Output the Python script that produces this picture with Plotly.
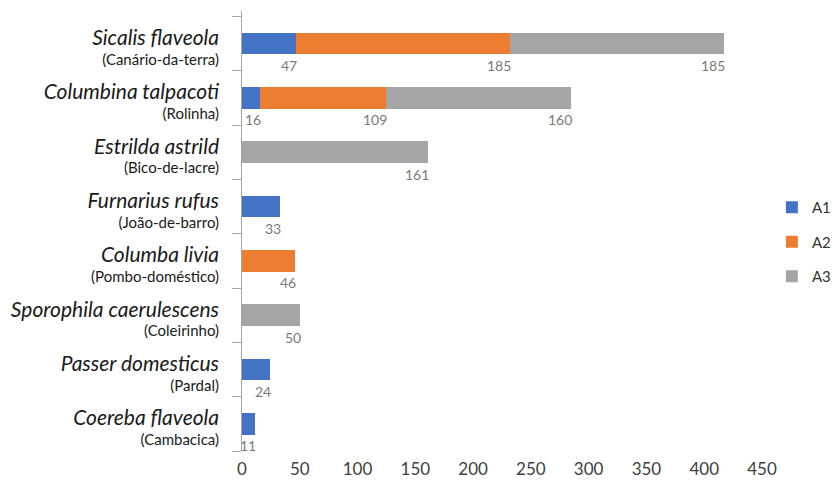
import plotly.graph_objects as go

species = ["Sicalis flaveola", "Columbina talpacoti", "Estrilda astrild", "Furnarius rufus",
           "Columba livia", "Sporophila caerulescens", "Passer domesticus", "Coereba flaveola"]
common = ["Canário-da-terra", "Rolinha", "Bico-de-lacre", "João-de-barro",
          "Pombo-doméstico", "Coleirinho", "Pardal", "Cambacica"]
a1 = [47, 16, 0, 33, 0, 0, 24, 11]
a2 = [185, 109, 0, 0, 46, 0, 0, 0]
a3 = [185, 160, 161, 0, 0, 50, 0, 0]
series_names = ["A1", "A2", "A3"]
colors = ["#4472C4", "#ED7D31", "#A5A5A5"]
x_ticks = [0, 50, 100, 150, 200, 250, 300, 350, 400, 450]

FONT = "Lato"
ticktext = [f"<span style='font-size:21px'><i>{s}</i></span><br>({c})" for s, c in zip(species, common)]

fig = go.Figure()
for name, vals, col in zip(series_names, [a1, a2, a3], colors):
    fig.add_trace(go.Bar(
        y=species, x=vals, name=name, orientation="h",
        marker=dict(color=col, line=dict(width=0)),
        legendgroup=name,
    ))

# value labels under the end of each segment
cum = [0] * len(species)
for vals in [a1, a2, a3]:
    for i, v in enumerate(vals):
        if v > 0:
            cum[i] += v
            fig.add_annotation(x=cum[i], y=species[i], text=str(v), showarrow=False,
                               xanchor="right", yanchor="middle", yshift=-22, xshift=3,
                               font=dict(family=FONT, size=14, color="#7a7a7a"))

fig.update_layout(
    width=835, height=486,
    margin=dict(l=242, r=73, t=11, b=35, autoexpand=False),
    barmode="stack", bargap=0.6,
    plot_bgcolor="white", paper_bgcolor="white",
    font=dict(family=FONT, color="#222222"),
    showlegend=True,
    legend=dict(x=1.019, y=0.475, xanchor="left", yanchor="middle",
                font=dict(family=FONT, size=15, color="#333333"),
                traceorder="grouped", tracegroupgap=12, itemwidth=30,
                bgcolor="rgba(0,0,0,0)"),
)
fig.update_xaxes(range=[0, 450], tickvals=x_ticks, showgrid=False, zeroline=False,
                 showline=False, ticks="", ticklabelstandoff=6,
                 tickfont=dict(family=FONT, size=17, color="#404040"))
fig.update_yaxes(categoryorder="array", categoryarray=species, autorange="reversed",
                 tickvals=species, ticktext=ticktext, tickson="boundaries",
                 ticks="outside", ticklen=9, tickcolor="#a6a6a6", tickwidth=1,
                 showline=True, linecolor="#a6a6a6", linewidth=1, showgrid=False,
                 ticklabelstandoff=19, ticklabelshift=-6,
                 tickfont=dict(family=FONT, size=15, color="#1a1a1a"))

fig.write_html("out.html")
